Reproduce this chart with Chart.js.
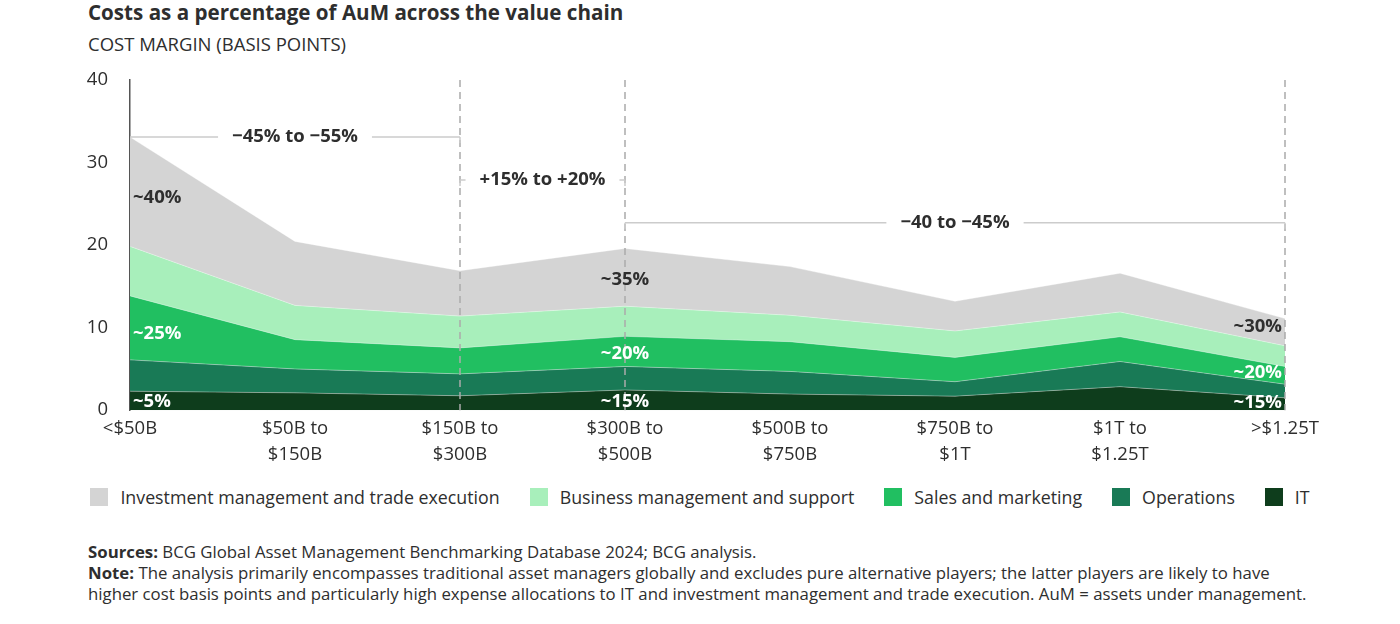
<!DOCTYPE html>
<html>
<head>
<meta charset="utf-8">
<script src="https://cdn.jsdelivr.net/npm/chart.js@4.4.1/dist/chart.umd.min.js"></script>
<style>
  body { margin: 0; background: #fff; font-family: "Open Sans", sans-serif; color: #2e2e2e; }
  #page { position: relative; width: 1400px; height: 624px; overflow: hidden; }
  #title { position: absolute; left: 88px; top: -2px; font-size: 20.6px; font-weight: bold; }
  #subtitle { position: absolute; left: 88px; top: 31px; font-size: 18.5px; }
  #chartbox { position: absolute; left: 0; top: 47px; width: 1400px; height: 432px; }
  #legend { position: absolute; left: 0; top: 485px; width: 1400px; display: flex; justify-content: center; font-size: 17.8px; }
  .item { display: flex; align-items: center; margin: 0 15px; }
  .box { width: 18px; height: 18px; margin-right: 12px; }
  #notes { position: absolute; left: 88px; top: 541px; font-size: 16.8px; line-height: 21px; }
</style>
</head>
<body>
<div id="page">
  <div id="title">Costs as a percentage of AuM across the value chain</div>
  <div id="subtitle">COST MARGIN (BASIS POINTS)</div>
  <div id="chartbox"><canvas id="myChart"></canvas></div>
  <div id="legend"></div>
  <div id="notes">
    <b>Sources:</b> BCG Global Asset Management Benchmarking Database 2024; BCG analysis.<br>
    <b>Note:</b> The analysis primarily encompasses traditional asset managers globally and excludes pure alternative players; the latter players are likely to have<br>
    higher cost basis points and particularly high expense allocations to IT and investment management and trade execution. AuM = assets under management.
  </div>
</div>
<script>
// AuM size buckets
const categories = [['<$50B'], ['$50B to', '$150B'], ['$150B to', '$300B'], ['$300B to', '$500B'],
    ['$500B to', '$750B'], ['$750B to', '$1T'], ['$1T to', '$1.25T'], ['>$1.25T']];

// cost margin in basis points, bottom layer first
const itCost         = [2.3, 2.1, 1.75, 2.45, 1.95, 1.7, 2.85, 1.5];
const operationsCost = [3.8, 2.9, 2.65, 2.85, 2.75, 1.75, 3.05, 1.65];
const salesCost      = [7.75, 3.55, 3.15, 3.65, 3.6, 2.95, 3.0, 2.15];
const businessCost   = [6.0, 4.15, 3.85, 3.65, 3.2, 3.2, 3.0, 2.5];
const investmentCost = [13.25, 7.75, 5.5, 7.0, 5.9, 3.6, 4.7, 3.3];

const seriesNames = ['IT', 'Operations', 'Sales and marketing', 'Business management and support', 'Investment management and trade execution'];
const seriesColors = ['#0e3d1c', '#197a56', '#21bf61', '#a8efbb', '#d4d4d4'];

const yTicks = [0, 10, 20, 30, 40];

// change brackets: from category, to category, level, text
const bracketFrom = [0, 2, 3];
const bracketTo = [2, 3, 7];
const bracketLevel = [33.1, 27.9, 22.7];
const bracketText = ['\u221245% to \u221255%', '+15% to +20%', '\u221240 to \u221245%'];
const dashedAt = [2, 3, 7];

// share labels inside the areas
const shareText  = ['~40%', '~25%', '~5%', '~35%', '~20%', '~15%', '~30%', '~20%', '~15%'];
const shareIndex = [0, 0, 0, 3, 3, 3, 7, 7, 7];
const shareValue = [25.7, 9.25, 1.05, 15.8, 6.9, 1.05, 10.1, 4.5, 0.95];
const shareDark  = [true, false, false, true, false, false, true, false, false];

const textColor = '#2e2e2e';
const fontFamily = '"Open Sans", sans-serif';

// legend, top layer first
let legend = document.getElementById('legend');
for (let i = seriesNames.length - 1; i >= 0; i--) {
    legend.innerHTML += '<div class="item"><div class="box" style="background:' + seriesColors[i] + '"></div>' + seriesNames[i] + '</div>';
}

const annotations = {
    id: 'annotations',
    afterDatasetsDraw(chart) {
        const ctx = chart.ctx;
        const x = chart.scales.x;
        const y = chart.scales.y;
        const area = chart.chartArea;
        ctx.save();
        // dashed guides
        ctx.strokeStyle = '#aaaaaa';
        ctx.lineWidth = 1.5;
        ctx.setLineDash([7, 5]);
        dashedAt.forEach(i => {
            let px = x.getPixelForValue(i);
            ctx.beginPath();
            ctx.moveTo(px, area.top);
            ctx.lineTo(px, area.bottom);
            ctx.stroke();
        });
        ctx.setLineDash([]);
        // brackets
        ctx.font = 'bold 18.5px ' + fontFamily;
        ctx.textAlign = 'center';
        ctx.textBaseline = 'middle';
        for (let i = 0; i < bracketText.length; i++) {
            let x1 = x.getPixelForValue(bracketFrom[i]);
            let x2 = x.getPixelForValue(bracketTo[i]);
            let py = y.getPixelForValue(bracketLevel[i]);
            let mid = (x1 + x2) / 2;
            let half = ctx.measureText(bracketText[i]).width / 2 + 14;
            ctx.strokeStyle = '#cccccc';
            ctx.lineWidth = 1.5;
            ctx.beginPath();
            ctx.moveTo(x1, py);
            ctx.lineTo(mid - half, py);
            ctx.moveTo(mid + half, py);
            ctx.lineTo(x2, py);
            if (i > 0) { ctx.moveTo(x1, py); ctx.lineTo(x1, py + 6); }
            ctx.moveTo(x2, py); ctx.lineTo(x2, py + 6);
            ctx.stroke();
            ctx.fillStyle = textColor;
            ctx.fillText(bracketText[i], mid, py);
        }
        // share labels
        for (let i = 0; i < shareText.length; i++) {
            let px = x.getPixelForValue(shareIndex[i]);
            let py = y.getPixelForValue(shareValue[i]);
            if (shareIndex[i] == 0) { ctx.textAlign = 'left'; px += 3; }
            else if (shareIndex[i] == categories.length - 1) { ctx.textAlign = 'right'; px -= 3; }
            else ctx.textAlign = 'center';
            ctx.fillStyle = shareDark[i] ? textColor : '#ffffff';
            ctx.fillText(shareText[i], px, py);
        }
        ctx.restore();
    }
};

const layers = [itCost, operationsCost, salesCost, businessCost, investmentCost];
const datasets = layers.map((data, i) => ({
    label: seriesNames[i],
    data: data,
    backgroundColor: seriesColors[i],
    borderColor: 'rgba(255,255,255,0.35)',
    borderWidth: 1,
    pointRadius: 0,
    tension: 0,
    fill: i == 0 ? 'origin' : '-1'
}));

new Chart(document.getElementById('myChart'), {
    type: 'line',
    data: { labels: categories, datasets: datasets },
    plugins: [annotations],
    options: {
        responsive: true,
        maintainAspectRatio: false,
        animation: false,
        layout: { padding: { left: 80, right: 115, top: 19, bottom: 5 } },
        plugins: { legend: { display: false }, tooltip: { enabled: false } },
        scales: {
            x: {
                offset: false,
                grid: { display: false, drawTicks: false },
                border: { display: false },
                ticks: { color: textColor, padding: 6, maxRotation: 0, autoSkip: false,
                    font: { family: fontFamily, size: 18.5, lineHeight: 1.4 } }
            },
            y: {
                stacked: true,
                min: 0,
                max: 40,
                afterFit: (scale) => { scale.width = 50; },
                afterBuildTicks: (scale) => { scale.ticks = yTicks.map(v => ({ value: v })); },
                grid: { display: false, drawTicks: false },
                border: { display: true, color: '#555555', width: 1.5 },
                ticks: { color: textColor, padding: 22, font: { family: fontFamily, size: 18.5 } }
            }
        }
    }
});
</script>
</body>
</html>
